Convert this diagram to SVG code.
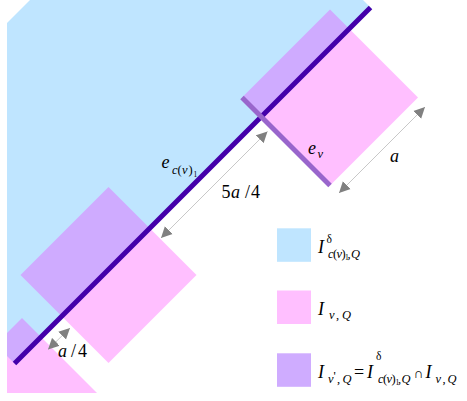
<svg xmlns="http://www.w3.org/2000/svg" width="467" height="401" viewBox="0 0 467 401">
<style>
  .t { font-family: "Liberation Serif", "Times New Roman", serif; fill: #000; }
  .i { font-style: italic; }
  .m { font-size: 18px; }
  .s { font-size: 12.5px; }
  .ss { font-size: 7.5px; }
  .blue { fill: #bfe5ff; }
  .pinkT { fill: #ff00ff; fill-opacity: 0.25; }
  .pink { fill: #ffbfff; }
  .purple { fill: #cfacff; }
  .dim { stroke: #c8c8c8; stroke-width: 1; fill: none; marker-start: url(#arr); marker-end: url(#arr); }
</style>
<defs>
  <clipPath id="clip"><rect x="7" y="0" width="460" height="393"/></clipPath>
  <marker id="arr" markerUnits="userSpaceOnUse" markerWidth="12" markerHeight="12" viewBox="0 0 12 12" refX="11" refY="6" orient="auto-start-reverse">
    <path d="M0,0.5 L11,6 L0,11.5 z" fill="#808080"/>
  </marker>
</defs>
<rect width="467" height="401" fill="#fff"/>
<g clip-path="url(#clip)">
  <g id="region-delta">
    <polygon class="blue" points="-159.5,189.5 196.5,-166.5 372,9 16,365"/>
  </g>
  <g id="square-v">
    <polygon class="pinkT" points="330,9.5 418,97.5 330,185.5 242,97.5"/>
  </g>
  <g id="square-mid">
    <polygon class="pinkT" points="108.5,187 196.5,275 108.5,363 20.5,275"/>
  </g>
  <g id="square-bottom">
    <polygon class="pinkT" points="22,318 110,406 22,494 -66,406"/>
  </g>
</g>
<g id="edge-ecv1">
  <line x1="14.5" y1="363.5" x2="370.5" y2="7.5" stroke="#4400aa" stroke-width="5"/>
</g>
<g id="edge-ev">
  <line x1="242" y1="97.5" x2="330" y2="185.5" stroke="#9966cc" stroke-width="5"/>
</g>
<g id="connectors">
  <line class="dim" x1="161" y1="238" x2="267.5" y2="131.5"/>
  <line class="dim" x1="339" y1="193" x2="425" y2="107"/>
  <line class="dim" x1="48" y1="349.5" x2="70" y2="328"/>
</g>
<g id="labels">
  <text class="t m i" x="161.5" y="168">e</text>
  <text class="t s" y="174"><tspan class="i" x="172">c</tspan><tspan x="177.5">(</tspan><tspan class="i" x="182">v</tspan><tspan x="188.5">)</tspan></text>
  <text class="t ss" x="193.5" y="176.5">1</text>
  <text class="t m i" x="308" y="153.5">e</text>
  <text class="t s i" x="317.5" y="158">v</text>
  <text class="t m i" x="390" y="162">a</text>
  <text class="t m" y="198"><tspan x="221.5">5</tspan><tspan class="i" x="231">a</tspan><tspan x="245">/</tspan><tspan x="251">4</tspan></text>
  <text class="t m" y="357"><tspan class="i" x="58">a</tspan><tspan x="71">/</tspan><tspan x="78">4</tspan></text>
</g>
<g id="legend">
  <g id="legend-delta">
    <rect class="blue" x="277" y="228.3" width="34" height="33.5"/>
    <text class="t m i" x="318" y="253.3">I</text>
    <text class="t" font-size="11.5" x="326.5" y="243.3">δ</text>
    <text class="t s" y="258"><tspan class="i" x="328">c</tspan><tspan x="333">(</tspan><tspan class="i" x="336.5">v</tspan><tspan x="341.5">)</tspan></text>
    <text class="t ss" x="345" y="260">1</text>
    <text class="t s" x="347.5" y="258">,</text>
    <text class="t s i" x="351" y="258.3">Q</text>
  </g>
  <g id="legend-v">
    <rect class="pink" x="277" y="290.5" width="34" height="33.5"/>
    <text class="t m i" x="318" y="315">I</text>
    <text class="t s i" x="329" y="319">v</text>
    <text class="t s" x="336" y="319">,</text>
    <text class="t s i" x="342" y="318.5">Q</text>
  </g>
  <g id="legend-intersection">
    <rect class="purple" x="277" y="353.3" width="34" height="33.5"/>
    <text class="t m i" x="318" y="378.3">I</text>
    <text class="t s i" x="328" y="382.5">v</text>
    <text class="t s" x="333.5" y="380">'</text>
    <text class="t s" x="337" y="382.5">,</text>
    <text class="t s i" x="342.5" y="382.5">Q</text>
    <text class="t m" x="354" y="378.3">=</text>
    <text class="t m i" x="367" y="378.3">I</text>
    <text class="t" font-size="11.5" x="376" y="360">δ</text>
    <text class="t s" y="383"><tspan class="i" x="378">c</tspan><tspan x="383">(</tspan><tspan class="i" x="386.5">v</tspan><tspan x="391.5">)</tspan></text>
    <text class="t ss" x="395.5" y="385">1</text>
    <text class="t s" x="398" y="383">,</text>
    <text class="t s i" x="401.5" y="383">Q</text>
    <text class="t" font-size="14" x="413.5" y="378.3">∩</text>
    <text class="t m i" x="425.5" y="378.3">I</text>
    <text class="t s i" x="435.5" y="383">v</text>
    <text class="t s" x="442.5" y="383">,</text>
    <text class="t s i" x="447.5" y="383">Q</text>
  </g>
</g>
</svg>
